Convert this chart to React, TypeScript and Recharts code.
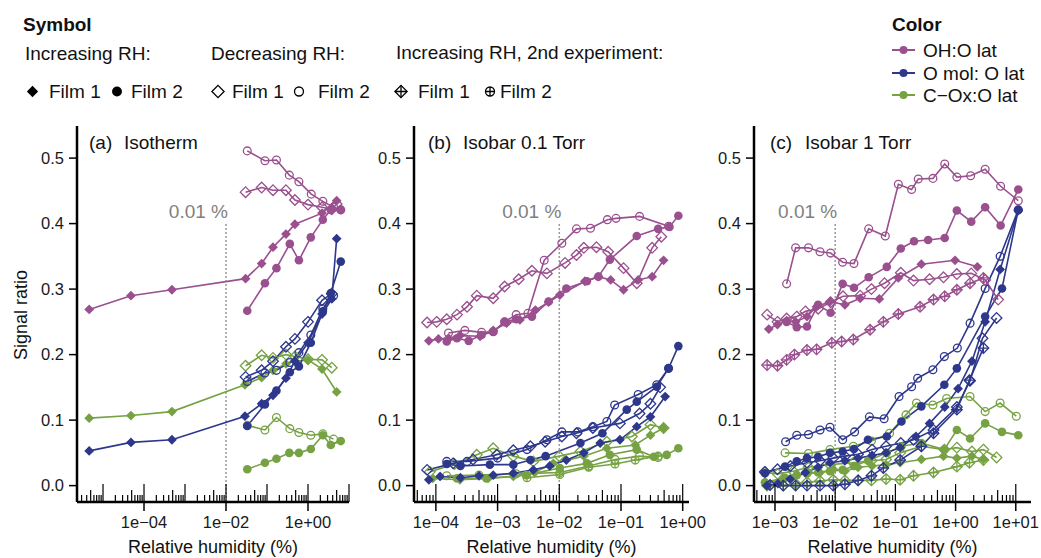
import React from 'react';
import { LineChart, Line, XAxis, YAxis, ReferenceLine, ReferenceDot } from 'recharts';

const PURPLE = '#9a4f8e';
const BLUE = '#2d378c';
const GREEN = '#76a244';
const FONT = '"Liberation Sans", Arial, Helvetica, sans-serif';

type Pt = [number, number];
type Mk = 'fd' | 'fc' | 'od' | 'oc' | 'xd' | 'xc';

// ---------- Panel (a) Isotherm ----------
const aOhInc1: Pt[] = [[4.6e-6,0.269],[4.8e-5,0.290],[4.8e-4,0.299],[0.030,0.316],[0.074,0.339],[0.14,0.364],[0.29,0.384],[0.48,0.399],[2.2,0.416],[5.0,0.435]];
const aOhInc2: Pt[] = [[0.033,0.267],[0.089,0.309],[0.17,0.332],[0.36,0.369],[0.60,0.344],[1.17,0.379],[2.3,0.406],[3.6,0.421],[6.3,0.421]];
const aOhDec1: Pt[] = [[0.030,0.448],[0.074,0.455],[0.14,0.451],[0.29,0.451],[0.48,0.436],[1.0,0.429],[2.2,0.425],[3.8,0.422],[5.0,0.430]];
const aOhDec2: Pt[] = [[0.033,0.511],[0.089,0.496],[0.17,0.497],[0.35,0.474],[0.60,0.464],[1.2,0.445],[2.3,0.434],[4.2,0.425],[6.3,0.421]];
const aOmInc1: Pt[] = [[4.6e-6,0.053],[4.8e-5,0.066],[4.8e-4,0.070],[0.029,0.106],[0.074,0.125],[0.14,0.138],[0.29,0.164],[0.48,0.19],[1.0,0.218],[2.2,0.262],[3.8,0.285],[5.0,0.377]];
const aOmInc2: Pt[] = [[0.033,0.091],[0.089,0.124],[0.17,0.145],[0.36,0.173],[0.60,0.182],[1.17,0.218],[2.3,0.266],[3.6,0.294],[6.3,0.342]];
const aOmDec1: Pt[] = [[0.030,0.166],[0.074,0.176],[0.14,0.19],[0.29,0.212],[0.48,0.224],[1.0,0.25],[2.2,0.283],[3.8,0.293]];
const aOmDec2: Pt[] = [[0.033,0.159],[0.089,0.172],[0.17,0.176],[0.36,0.188],[0.60,0.203],[1.17,0.23],[2.3,0.27],[4.2,0.29]];
const aCoInc1: Pt[] = [[4.6e-6,0.103],[4.8e-5,0.107],[4.8e-4,0.113],[0.029,0.154],[0.074,0.165],[0.14,0.176],[0.29,0.186],[0.48,0.19],[1.0,0.192],[2.2,0.178],[5.0,0.143]];
const aCoInc2: Pt[] = [[0.033,0.025],[0.089,0.035],[0.17,0.041],[0.35,0.050],[0.60,0.050],[1.17,0.056],[2.3,0.077],[3.6,0.062],[6.3,0.068]];
const aCoDec1: Pt[] = [[0.030,0.183],[0.074,0.199],[0.14,0.195],[0.29,0.2],[0.48,0.197],[1.0,0.193],[2.2,0.192],[3.8,0.18]];
const aCoDec2: Pt[] = [[0.033,0.092],[0.089,0.085],[0.17,0.104],[0.36,0.087],[0.60,0.081],[1.17,0.077],[2.3,0.079],[4.2,0.071]];

// ---------- Panel (b) Isobar 0.1 Torr ----------
const bOhInc1: Pt[] = [[7.7e-5,0.221],[1.1e-4,0.224],[1.6e-4,0.225],[2.45e-4,0.229],[5.2e-4,0.228],[8.5e-4,0.237],[1.4e-3,0.248],[2.3e-3,0.253],[4.1e-3,0.268],[6.7e-3,0.280],[0.0102,0.291],[0.026,0.312],[0.043,0.319],[0.068,0.314],[0.11,0.299],[0.19,0.314],[0.32,0.319],[0.49,0.344]];
const bOhInc2: Pt[] = [[1.5e-4,0.220],[2.2e-4,0.225],[3.4e-4,0.221],[5.5e-4,0.230],[8.5e-4,0.235],[1.3e-3,0.250],[2.0e-3,0.254],[3.6e-3,0.258],[6.7e-3,0.281],[0.013,0.301],[0.028,0.312],[0.043,0.319],[0.066,0.345],[0.18,0.381],[0.40,0.392],[0.61,0.395],[0.85,0.412]];
const bOhDec1: Pt[] = [[7.2e-5,0.249],[1.03e-4,0.250],[1.5e-4,0.254],[2.2e-4,0.261],[3.2e-4,0.273],[4.6e-4,0.290],[8.5e-4,0.286],[1.3e-3,0.304],[2.2e-3,0.315],[3.6e-3,0.328],[6.3e-3,0.324],[0.0124,0.340],[0.019,0.352],[0.025,0.363],[0.040,0.364],[0.062,0.357],[0.11,0.332],[0.18,0.309],[0.32,0.363],[0.45,0.38]];
const bOhDec2: Pt[] = [[1.6e-4,0.233],[2.95e-4,0.237],[5.5e-4,0.234],[8.5e-4,0.235],[1.3e-3,0.250],[2.0e-3,0.261],[3.1e-3,0.263],[5.7e-3,0.344],[0.011,0.370],[0.019,0.392],[0.032,0.393],[0.060,0.406],[0.083,0.408],[0.20,0.411],[0.59,0.396]];
const bOmInc1: Pt[] = [[7.7e-5,0.009],[1.17e-4,0.014],[2.5e-4,0.012],[5e-4,0.015],[8.5e-4,0.016],[1.8e-3,0.019],[3.8e-3,0.024],[7e-3,0.03],[0.013,0.039],[0.025,0.05],[0.046,0.065],[0.096,0.070],[0.18,0.09],[0.30,0.105],[0.52,0.136]];
const bOmInc2: Pt[] = [[1.5e-4,0.033],[2.5e-4,0.030],[7.5e-4,0.032],[1.8e-3,0.032],[3.4e-3,0.039],[6e-3,0.045],[0.022,0.065],[0.05,0.08],[0.124,0.116],[0.18,0.128],[0.38,0.151],[0.59,0.179],[0.85,0.213]];
const bOmDec1: Pt[] = [[7.2e-5,0.024],[1.9e-4,0.034],[4e-4,0.040],[9.7e-4,0.047],[1.8e-3,0.054],[3.4e-3,0.060],[5.9e-3,0.067],[0.011,0.075],[0.019,0.080],[0.035,0.088],[0.096,0.095],[0.2,0.11],[0.3,0.125],[0.43,0.15]];
const bOmDec2: Pt[] = [[1.5e-4,0.037],[3.2e-4,0.037],[1e-3,0.042],[3e-3,0.055],[6.3e-3,0.070],[0.011,0.082],[0.020,0.082],[0.035,0.090],[0.059,0.098],[0.079,0.123],[0.19,0.139],[0.38,0.154],[0.59,0.179]];
const bCoInc1: Pt[] = [[8.9e-5,0.011],[2.45e-4,0.009],[7e-4,0.011],[1.8e-3,0.014],[4e-3,0.02],[8e-3,0.034],[0.025,0.045],[0.059,0.057],[0.17,0.062],[0.30,0.077],[0.49,0.088]];
const bCoInc2: Pt[] = [[2.2e-4,0.011],[6.6e-4,0.011],[2.9e-3,0.016],[0.0102,0.027],[0.028,0.034],[0.066,0.047],[0.18,0.055],[0.34,0.044],[0.55,0.047],[0.85,0.057]];
const bCoDec1: Pt[] = [[8e-5,0.021],[2e-4,0.033],[4.6e-4,0.047],[8.5e-4,0.057],[1.8e-3,0.045],[3.8e-3,0.037],[0.01,0.045],[0.022,0.052],[0.059,0.067],[0.15,0.075],[0.30,0.093],[0.49,0.088]];
const bCoDec2: Pt[] = [[1.5e-4,0.015],[5e-4,0.016],[2e-3,0.018],[0.0102,0.02],[0.03,0.03],[0.08,0.04],[0.2,0.045],[0.4,0.043]];
const bCoInc2b: Pt[] = [[3e-3,0.012],[0.0102,0.017],[0.03,0.028],[0.08,0.033],[0.17,0.039],[0.4,0.045]];

// ---------- Panel (c) Isobar 1 Torr ----------
const cOhDec2: Pt[] = [[1.56e-3,0.308],[2.2e-3,0.363],[3.6e-3,0.363],[5.6e-3,0.357],[8.4e-3,0.355],[0.0133,0.341],[0.0205,0.339],[0.036,0.392],[0.068,0.381],[0.112,0.460],[0.186,0.452],[0.24,0.468],[0.42,0.469],[0.66,0.491],[1.05,0.471],[1.78,0.473],[3.1,0.483],[5.6,0.457],[11.0,0.435]];
const cOhInc2: Pt[] = [[1.56e-3,0.250],[2.3e-3,0.242],[3.4e-3,0.243],[5.2e-3,0.276],[8.4e-3,0.264],[0.0133,0.308],[0.0205,0.302],[0.036,0.318],[0.072,0.334],[0.123,0.362],[0.204,0.373],[0.35,0.375],[0.66,0.378],[1.05,0.420],[1.82,0.403],[3.1,0.425],[5.6,0.397],[11.0,0.452]];
const cOhInc1: Pt[] = [[7.9e-4,0.239],[1.1e-3,0.246],[1.56e-3,0.252],[2.2e-3,0.25],[3.4e-3,0.258],[4.9e-3,0.273],[8.2e-3,0.281],[0.0145,0.276],[0.026,0.286],[0.054,0.285],[0.112,0.317],[0.27,0.338],[0.98,0.344],[2.3,0.334]];
const cOhDec1: Pt[] = [[7.4e-4,0.261],[1.1e-3,0.25],[1.56e-3,0.255],[2.3e-3,0.258],[3.2e-3,0.266],[5.2e-3,0.27],[8.4e-3,0.28],[0.0135,0.289],[0.026,0.29],[0.04,0.30],[0.066,0.309],[0.123,0.325],[0.2,0.313],[0.37,0.315],[0.63,0.318],[1.05,0.323],[1.82,0.324],[3.1,0.314],[5.1,0.284]];
const cOhInc1b: Pt[] = [[7.4e-4,0.184],[1.1e-3,0.183],[1.56e-3,0.192],[2.1e-3,0.200],[3.4e-3,0.207],[4.9e-3,0.208],[8.8e-3,0.218],[0.0128,0.220],[0.020,0.223],[0.038,0.238],[0.063,0.250],[0.112,0.262],[0.257,0.273],[0.43,0.284],[0.66,0.289],[1.05,0.299],[1.74,0.309],[2.9,0.317]];
const cOmDec2: Pt[] = [[1.5e-3,0.067],[2.3e-3,0.077],[3.6e-3,0.078],[5.6e-3,0.085],[8.2e-3,0.089],[0.0133,0.070],[0.021,0.082],[0.037,0.105],[0.065,0.102],[0.115,0.136],[0.186,0.151],[0.234,0.164],[0.42,0.177],[0.65,0.197],[1.07,0.210],[1.74,0.248],[3.1,0.301],[5.5,0.350],[11.0,0.421]];
const cOmInc2: Pt[] = [[6.8e-4,0.019],[1.47e-3,0.029],[2.3e-3,0.037],[3.4e-3,0.042],[5.2e-3,0.044],[8.2e-3,0.050],[0.0133,0.052],[0.0205,0.056],[0.035,0.070],[0.072,0.075],[0.126,0.098],[0.27,0.121],[0.65,0.154],[1.05,0.179],[3.1,0.258],[5.9,0.301],[11.0,0.421]];
const cOmInc1: Pt[] = [[7.3e-4,0.0],[1.12e-3,0.003],[1.78e-3,0.01],[3.2e-3,0.02],[5.2e-3,0.028],[8.2e-3,0.035],[0.0145,0.038],[0.024,0.042],[0.041,0.046],[0.07,0.05],[0.12,0.058],[0.22,0.075],[0.37,0.095],[0.66,0.12],[1.1,0.148],[1.87,0.19],[3.1,0.25],[5.5,0.33],[11.0,0.42]];
const cOmDec1: Pt[] = [[6.8e-4,0.021],[1.1e-3,0.025],[1.8e-3,0.03],[3.4e-3,0.035],[5.6e-3,0.038],[9.3e-3,0.042],[0.0145,0.045],[0.024,0.048],[0.041,0.055],[0.07,0.06],[0.123,0.065],[0.2,0.07],[0.43,0.085],[1.05,0.12],[1.74,0.16],[2.8,0.225],[4.8,0.256]];
const cOmInc1b: Pt[] = [[8.3e-4,0.001],[1.37e-3,0.0],[2.2e-3,0.0],[3.4e-3,0.0],[5.6e-3,0.0],[9.3e-3,0.0],[0.0145,0.002],[0.024,0.008],[0.04,0.015],[0.063,0.027],[0.12,0.039],[0.27,0.060],[0.43,0.080],[1.05,0.116],[1.7,0.161],[2.9,0.210]];
const cCoDec2: Pt[] = [[1.47e-3,0.050],[3.6e-3,0.049],[8.2e-3,0.055],[0.02,0.06],[0.04,0.068],[0.08,0.08],[0.15,0.108],[0.224,0.126],[0.42,0.123],[0.71,0.133],[1.74,0.136],[3.1,0.113],[5.5,0.126],[10.2,0.106]];
const cCoInc2: Pt[] = [[6.8e-4,0.005],[1.47e-3,0.012],[2.3e-3,0.016],[3.4e-3,0.018],[5.2e-3,0.02],[8.2e-3,0.022],[0.0133,0.024],[0.0205,0.03],[0.035,0.038],[0.072,0.05],[0.126,0.06],[0.27,0.065],[0.65,0.055],[1.05,0.085],[1.74,0.072],[3.1,0.095],[5.9,0.082],[11.0,0.077]];
const cCoInc1: Pt[] = [[7.3e-4,0.002],[1.37e-3,0.01],[2.2e-3,0.015],[3.6e-3,0.02],[5.6e-3,0.02],[9.3e-3,0.025],[0.0145,0.022],[0.024,0.028],[0.041,0.03],[0.07,0.032],[0.12,0.035],[0.27,0.04],[0.63,0.045],[1.05,0.042],[1.87,0.045],[2.9,0.04]];
const cCoDec1: Pt[] = [[6.8e-4,0.02],[1.1e-3,0.018],[2e-3,0.022],[3.6e-3,0.028],[8.2e-3,0.032],[0.02,0.035],[0.04,0.038],[0.07,0.04],[0.12,0.05],[0.27,0.06],[0.65,0.055],[1.05,0.058],[1.87,0.052],[2.9,0.055],[4.8,0.043]];
const cCoInc1b: Pt[] = [[7.4e-4,0.0],[1.37e-3,0.0],[2.2e-3,0.003],[3.4e-3,0.005],[5.6e-3,0.007],[9.3e-3,0.009],[0.0145,0.008],[0.024,0.008],[0.04,0.008],[0.07,0.01],[0.12,0.009],[0.2,0.015],[0.43,0.02],[1.05,0.029],[1.7,0.035],[2.9,0.039]];

// axis ticks
const yTicks = [0, 0.1, 0.2, 0.3, 0.4, 0.5];
const MINOR = [1, 2, 3, 4, 5, 6, 7, 8, 9];
const aDecades = [1e-6, 1e-5, 1e-4, 1e-3, 1e-2, 1e-1, 1, 10];
const bDecades = [1e-5, 1e-4, 1e-3, 1e-2, 1e-1, 1];
const cDecades = [1e-4, 1e-3, 1e-2, 1e-1, 1, 10];
const aLabels = [1e-4, 1e-2, 1];
const bLabels = [1e-4, 1e-3, 1e-2, 1e-1, 1];
const cLabels = [1e-3, 1e-2, 1e-1, 1, 10];
const REF_X = 0.01;
const REF_TOP = 0.4;

interface Series { data: Pt[]; color: string; mk: Mk; }
interface Panel {
  left: number; right: number; domain: [number, number];
  decades: number[]; labels: number[]; series: Series[];
  tag: string; name: string;
}

const S = (data: Pt[], color: string, mk: Mk): Series => ({ data, color, mk });

const panels: Panel[] = [
  {
    left: 77, right: 349, domain: [2.32e-6, 10], decades: aDecades, labels: aLabels,
    tag: '(a)', name: 'Isotherm',
    series: [
      S(aCoDec1, GREEN, 'od'), S(aCoDec2, GREEN, 'oc'), S(aCoInc1, GREEN, 'fd'), S(aCoInc2, GREEN, 'fc'),
      S(aOmDec1, BLUE, 'od'), S(aOmDec2, BLUE, 'oc'), S(aOmInc1, BLUE, 'fd'), S(aOmInc2, BLUE, 'fc'),
      S(aOhDec1, PURPLE, 'od'), S(aOhDec2, PURPLE, 'oc'), S(aOhInc1, PURPLE, 'fd'), S(aOhInc2, PURPLE, 'fc'),
    ],
  },
  {
    left: 414, right: 689, domain: [4.42e-5, 1.265], decades: bDecades, labels: bLabels,
    tag: '(b)', name: 'Isobar 0.1 Torr',
    series: [
      S(bCoDec1, GREEN, 'od'), S(bCoDec2, GREEN, 'oc'), S(bCoInc2b, GREEN, 'xc'), S(bCoInc1, GREEN, 'fd'), S(bCoInc2, GREEN, 'fc'),
      S(bOmDec1, BLUE, 'od'), S(bOmDec2, BLUE, 'oc'), S(bOmInc1, BLUE, 'fd'), S(bOmInc2, BLUE, 'fc'),
      S(bOhDec1, PURPLE, 'od'), S(bOhDec2, PURPLE, 'oc'), S(bOhInc1, PURPLE, 'fd'), S(bOhInc2, PURPLE, 'fc'),
    ],
  },
  {
    left: 754, right: 1031, domain: [4.48e-4, 17.9], decades: cDecades, labels: cLabels,
    tag: '(c)', name: 'Isobar 1 Torr',
    series: [
      S(cCoInc1b, GREEN, 'xd'), S(cCoDec1, GREEN, 'od'), S(cCoDec2, GREEN, 'oc'), S(cCoInc1, GREEN, 'fd'), S(cCoInc2, GREEN, 'fc'),
      S(cOmInc1b, BLUE, 'xd'), S(cOmDec1, BLUE, 'od'), S(cOmDec2, BLUE, 'oc'), S(cOmInc1, BLUE, 'fd'), S(cOmInc2, BLUE, 'fc'),
      S(cOhInc1b, PURPLE, 'xd'), S(cOhDec1, PURPLE, 'od'), S(cOhDec2, PURPLE, 'oc'), S(cOhInc1, PURPLE, 'fd'), S(cOhInc2, PURPLE, 'fc'),
    ],
  },
];

const W = 1041;
const H = 558;
const TOP = 126;
const BOTTOM = 502;
const Y_DOMAIN: [number, number] = [-0.025, 0.549];

function Marker({ cx, cy, mk, color, s = 1 }: { cx: number; cy: number; mk: Mk; color: string; s?: number }) {
  if (cx == null || cy == null || isNaN(cx) || isNaN(cy)) return null;
  const sw = 1.3;
  if (mk === 'fd') {
    const r = 4.9 * s;
    return <polygon points={`${cx},${cy - r} ${cx + r},${cy} ${cx},${cy + r} ${cx - r},${cy}`} fill={color} />;
  }
  if (mk === 'fc') return <circle cx={cx} cy={cy} r={4.3 * s} fill={color} />;
  if (mk === 'oc' || mk === 'xc') {
    const r = 3.9 * s;
    return (
      <g>
        <circle cx={cx} cy={cy} r={r} fill="none" stroke={color} strokeWidth={sw} />
        {mk === 'xc' && <path d={`M${cx - r},${cy}H${cx + r}M${cx},${cy - r}V${cy + r}`} stroke={color} strokeWidth={sw} />}
      </g>
    );
  }
  const r = 5.3 * s;
  return (
    <g>
      <polygon points={`${cx},${cy - r} ${cx + r},${cy} ${cx},${cy + r} ${cx - r},${cy}`} fill="none" stroke={color} strokeWidth={sw} />
      {mk === 'xd' && <path d={`M${cx - r},${cy}H${cx + r}M${cx},${cy - r}V${cy + r}`} stroke={color} strokeWidth={sw} />}
    </g>
  );
}

const fmtExp = (e: number) => `1e${e < 0 ? '\u2212' : '+'}${String(Math.abs(e)).padStart(2, '0')}`;

const makeTick = (labels: number[], axisY: number) => (props: any) => {
  const { x, payload } = props;
  const y = axisY;
  const v = payload.value as number;
  const lg = Math.log10(v);
  const e = Math.round(lg);
  const isDec = Math.abs(lg - e) < 1e-6;
  const mant = Math.round(v / Math.pow(10, Math.floor(lg + 1e-9)));
  const len = isDec ? 18 : mant === 5 ? 12 : 7;
  const labeled = isDec && labels.some((l) => Math.abs(Math.log10(l) - e) < 1e-6);
  return (
    <g>
      <line x1={x} x2={x} y1={y} y2={y - len} stroke="#000" strokeWidth={1.2} />
      {labeled && <line x1={x} x2={x} y1={y} y2={y + 9} stroke="#000" strokeWidth={1.5} />}
      {labeled && (
        <text x={x} y={y + 26} textAnchor="middle" fontSize={16.5} fill="#1a1a1a">{fmtExp(e)}</text>
      )}
    </g>
  );
};

const RefLabel = (props: any) => {
  const { cx, cy } = props;
  if (cx == null) return null;
  return (
    <text x={cx + 2} y={cy - 6} textAnchor="end" fontSize={19} fill="#7f7f7f">0.01 %</text>
  );
};

function PanelChart({ p }: { p: Panel }) {
  const ticks = p.decades
    .flatMap((d) => MINOR.map((k) => k * d))
    .filter((v) => v >= p.domain[0] && v <= p.domain[1] * 1.0001);
  return (
    <div style={{ position: 'absolute', left: 0, top: 0 }}>
      <LineChart width={W} height={H} margin={{ top: TOP, left: p.left - 20, right: W - p.right, bottom: H - BOTTOM - 20 }}>
        <XAxis
          type="number" dataKey="x" scale="log" domain={p.domain} allowDataOverflow
          ticks={ticks} interval={0} tick={makeTick(p.labels, BOTTOM)} tickLine={false}
          tickSize={0} tickMargin={0} height={20}
          axisLine={{ stroke: '#000', strokeWidth: 2.5 }}
        />
        <YAxis
          type="number" domain={Y_DOMAIN} allowDataOverflow ticks={yTicks}
          tickFormatter={(v: number) => v.toFixed(1)} width={20} tickSize={8} tickMargin={5}
          tick={{ fill: '#1a1a1a', fontSize: 16.5 }}
          tickLine={{ stroke: '#000', strokeWidth: 1.5 }}
          axisLine={{ stroke: '#000', strokeWidth: 2.5 }}
        />
        <ReferenceLine
          segment={[{ x: REF_X, y: Y_DOMAIN[0] }, { x: REF_X, y: REF_TOP }]}
          stroke="#9a9a9a" strokeWidth={1.5} strokeDasharray="2 2"
        />
        <ReferenceDot x={REF_X} y={REF_TOP} r={0} shape={RefLabel} />
        {p.series.map((s, i) => (
          <Line
            key={i}
            data={s.data.map(([x, y]) => ({ x, y }))}
            dataKey="y"
            type="linear"
            stroke={s.color}
            strokeWidth={1.6}
            isAnimationActive={false}
            dot={(dp: any) => <Marker key={`${i}-${dp.index}`} cx={dp.cx} cy={dp.cy} mk={s.mk} color={s.color} />}
            activeDot={false}
          />
        ))}
      </LineChart>
    </div>
  );
}

const symbolRow: { mk: Mk; mx: number; tx: number; label: string }[] = [
  { mk: 'fd', mx: 32.5, tx: 49, label: 'Film 1' },
  { mk: 'fc', mx: 117, tx: 131, label: 'Film 2' },
  { mk: 'od', mx: 218, tx: 232, label: 'Film 1' },
  { mk: 'oc', mx: 299, tx: 318, label: 'Film 2' },
  { mk: 'xd', mx: 401, tx: 418, label: 'Film 1' },
  { mk: 'xc', mx: 490, tx: 500, label: 'Film 2' },
];

const colorRows = [
  { color: PURPLE, label: 'OH:O lat', y: 57 },
  { color: BLUE, label: 'O mol: O lat', y: 80 },
  { color: GREEN, label: 'C\u2212Ox:O lat', y: 102 },
];

export default function App() {
  return (
    <div style={{ position: 'absolute', left: 0, top: 0, width: W, height: H, background: '#fff', fontFamily: FONT, overflow: 'hidden' }}>
      {panels.map((p, i) => <PanelChart key={i} p={p} />)}
      <svg width={W} height={H} style={{ position: 'absolute', left: 0, top: 0, pointerEvents: 'none' }} fontFamily={FONT}>
        <text x={23} y={31} fontSize={19} fontWeight="bold" fill="#111">Symbol</text>
        <text x={25} y={60} fontSize={19} fill="#111">Increasing RH:</text>
        <text x={211} y={60} fontSize={19} fill="#111">Decreasing RH:</text>
        <text x={396} y={59} fontSize={19} fill="#111">Increasing RH, 2nd experiment:</text>
        {symbolRow.map((r, i) => (
          <g key={i}>
            <Marker cx={r.mx} cy={91.5} mk={r.mk} color="#000" s={1.15} />
            <text x={r.tx} y={98} fontSize={19} fill="#111">{r.label}</text>
          </g>
        ))}
        <text x={892} y={31} fontSize={19} fontWeight="bold" fill="#111">Color</text>
        {colorRows.map((r, i) => (
          <g key={i}>
            <line x1={892} x2={915} y1={r.y - 7} y2={r.y - 7} stroke={r.color} strokeWidth={2} />
            <circle cx={903.5} cy={r.y - 7} r={4} fill={r.color} />
            <text x={923} y={r.y} fontSize={19} fill="#111">{r.label}</text>
          </g>
        ))}
        {panels.map((p, i) => (
          <g key={i}>
            <text x={p.left + 12 + i * 2} y={149} fontSize={19} fill="#111">{p.tag}</text>
            <text x={p.left + 47 + i * 2} y={149} fontSize={19} fill="#111">{p.name}</text>
            <text x={(p.left + p.right) / 2} y={553} fontSize={18} textAnchor="middle" fill="#111">Relative humidity (%)</text>
          </g>
        ))}
        <text x={27} y={315} fontSize={18} textAnchor="middle" fill="#111" transform="rotate(-90 27 315)">Signal ratio</text>
      </svg>
    </div>
  );
}
